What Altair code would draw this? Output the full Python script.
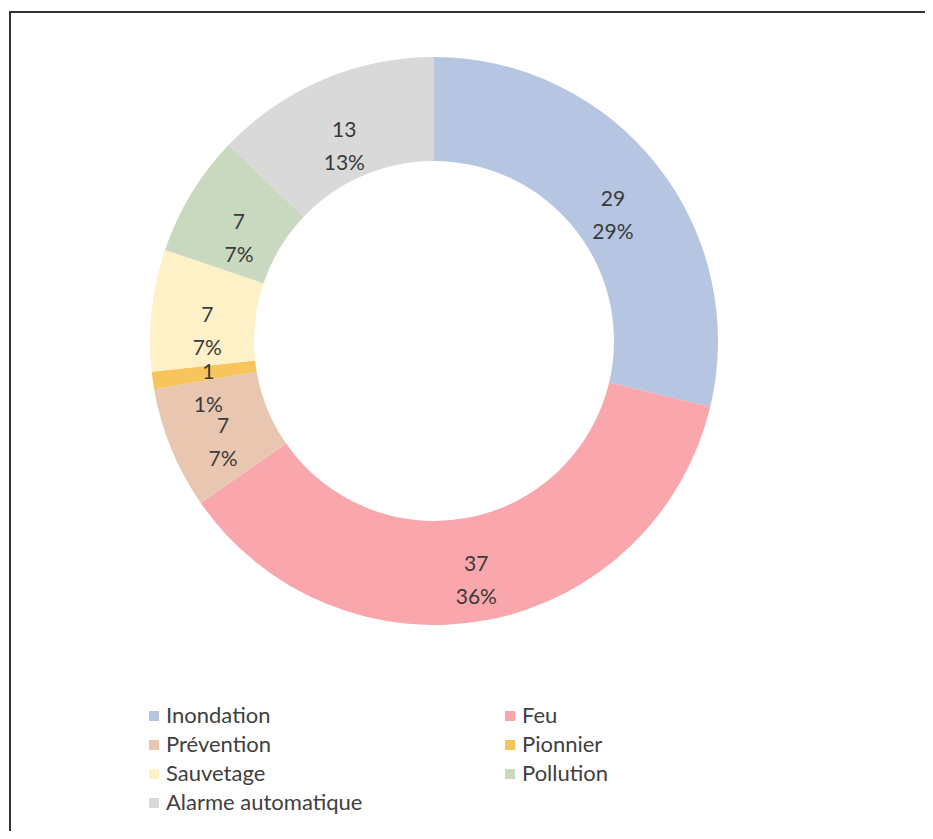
import altair as alt
import pandas as pd

categories = ["Inondation", "Feu", "Prévention", "Pionnier", "Sauvetage", "Pollution", "Alarme automatique"]
counts = [29, 37, 7, 1, 7, 7, 13]
percents = ["29%", "36%", "7%", "1%", "7%", "7%", "13%"]
colors = ["#B5C5E2", "#F9A6AC", "#E9C6AF", "#F8C55C", "#FEF1C7", "#C9D9BF", "#D9D9D9"]

df = pd.DataFrame({
    "cat": categories,
    "n": counts,
    "pct": percents,
    "ord": list(range(len(categories))),
})
df["label"] = [f"{c}\n{p}" for c, p in zip(counts, percents)]

W, H = 917, 823
CX, CY = 426, 333

base = alt.Chart(df).encode(
    theta=alt.Theta("n:Q", stack=True),
    order=alt.Order("ord:Q"),
    x=alt.value(CX),
    y=alt.value(CY),
)

arcs = base.mark_arc(outerRadius=284, innerRadius=180, strokeWidth=0).encode(
    color=alt.Color(
        "cat:N",
        scale=alt.Scale(domain=categories, range=colors),
        sort=categories,
        legend=alt.Legend(
            title=None,
            orient="none",
            legendX=135,
            legendY=697,
            columns=2,
            direction="horizontal",
            columnPadding=136,
            rowPadding=7,
            symbolType="square",
            symbolSize=100,
            symbolStrokeWidth=0,
            labelFont="Lato",
            labelFontSize=22,
            labelColor="#404040",
            labelOffset=1,
            labelLimit=400,
        ),
    )
)

labels = base.mark_text(
    radius=228,
    lineBreak="\n",
    lineHeight=33,
    font="Lato",
    fontSize=21,
    color="#3A3A3A",
).encode(text="label:N")

frame_df = pd.DataFrame({"a": [0]})
top_rule = alt.Chart(frame_df).mark_rule(color="#333333", strokeWidth=2).encode(
    x=alt.value(1), x2=alt.value(W), y=alt.value(4)
)
left_rule = alt.Chart(frame_df).mark_rule(color="#333333", strokeWidth=2).encode(
    x=alt.value(2), y=alt.value(4), y2=alt.value(H)
)

chart = alt.layer(arcs, labels, top_rule, left_rule).properties(
    width=W, height=H, padding=0, autosize=alt.AutoSizeParams(type="none")
).configure_view(stroke=None)

chart.save("out.html", embed_options={"renderer": "svg", "actions": False})
